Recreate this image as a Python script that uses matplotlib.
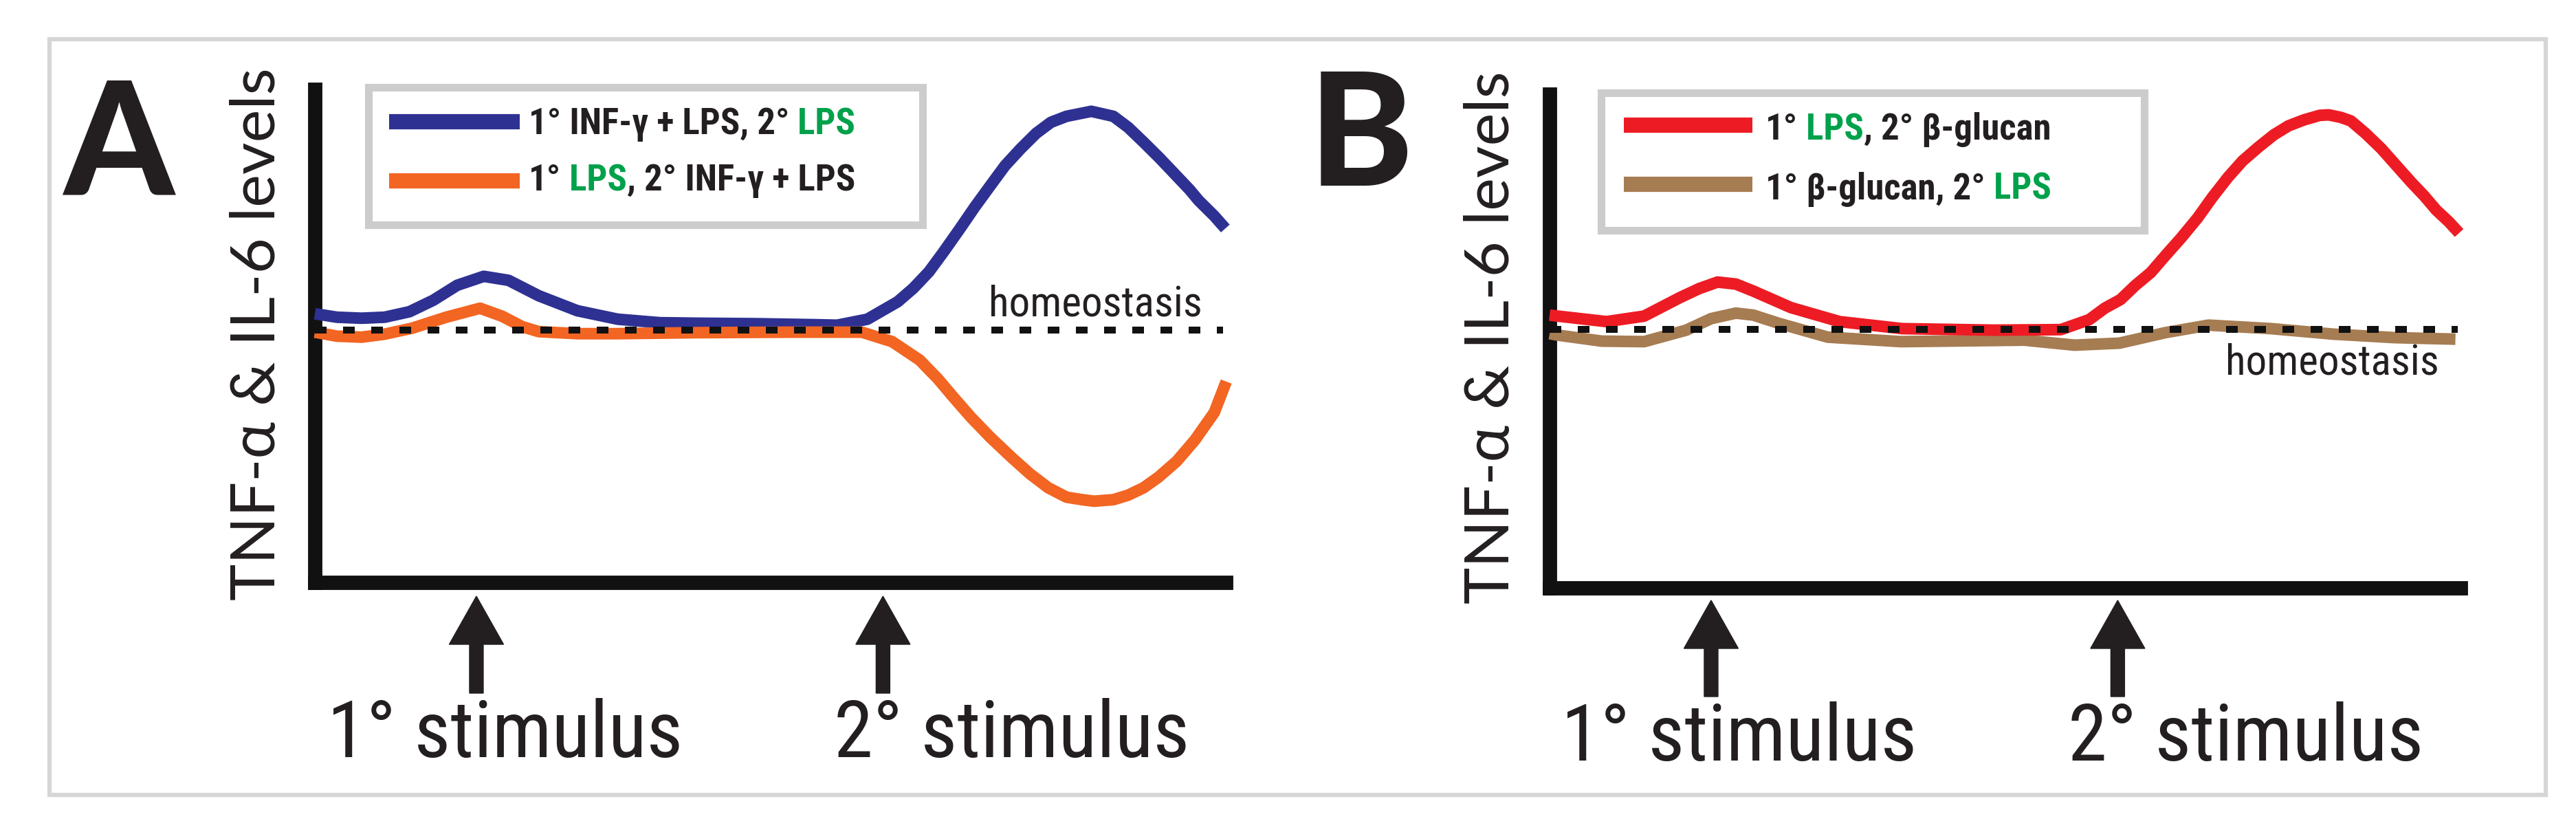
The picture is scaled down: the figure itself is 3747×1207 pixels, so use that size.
import matplotlib
matplotlib.use("Agg")
import matplotlib.pyplot as plt
from matplotlib import font_manager, patches, transforms

W, H, DPI = 3748, 1207, 100

# time runs 0-100 along the x axis, level 0-100 up the y axis (homeostasis ~ 50)
a_blue_t = [0, 2.4, 5.1, 7.6, 10.3, 12.9, 15.5, 18.4, 21.1, 24.4, 28.6, 33.0, 37.6, 41.6, 48.1,
            54.5, 56.9, 60.2, 63.5, 65.2, 66.9, 68.5, 70.3, 71.9, 73.6, 75.2, 76.9, 78.6, 80.2,
            81.9, 84.6, 87.0, 88.6, 90.3, 92.0, 93.6, 95.3, 96.3, 98.0, 99.2]
a_blue_y = [53.9, 53.2, 53.0, 53.2, 54.3, 56.6, 59.6, 61.4, 60.6, 57.5, 54.5, 52.8, 52.1, 52.0, 51.9,
            51.7, 51.6, 52.8, 56.3, 59.0, 62.3, 66.3, 71.0, 75.3, 79.6, 83.6, 87.0, 90.1, 92.3,
            93.5, 94.5, 93.5, 91.3, 88.3, 85.2, 82.1, 78.8, 76.6, 73.5, 71.0]
a_orange_t = [0, 2.4, 5.1, 7.6, 10.6, 14.3, 18.0, 20.4, 22.6, 24.4, 28.6, 33.0, 41.6, 51.8, 59.6,
              62.9, 65.9, 67.9, 69.6, 71.5, 73.6, 75.9, 77.9, 79.9, 81.9, 83.6, 84.9, 87.0, 88.6,
              90.3, 91.9, 93.9, 95.9, 98.0, 99.3]
a_orange_y = [50.2, 49.4, 49.2, 49.8, 51.0, 53.2, 55.0, 53.4, 51.3, 50.3, 49.9, 49.9, 50.1, 50.2, 50.2,
              48.3, 44.6, 40.8, 37.1, 33.1, 29.1, 25.1, 21.8, 19.0, 17.1, 16.6, 16.3, 16.6, 17.5,
              19.0, 21.1, 24.3, 28.6, 34.1, 40.3]

b_red_t = [0, 0.9, 6.2, 10.3, 14.2, 16.3, 18.3, 20.3, 22.2, 26.3, 31.6, 38.4, 48.4, 55.7, 58.8,
           60.5, 62.2, 63.8, 65.5, 67.2, 68.8, 70.6, 72.2, 73.9, 75.5, 77.2, 78.9, 80.5, 82.2,
           83.9, 84.9, 86.2, 87.3, 88.9, 90.6, 92.3, 93.9, 95.3, 96.6, 98.0, 99.1]
b_red_y = [54.5, 54.3, 53.2, 54.3, 58.0, 59.8, 61.1, 60.7, 59.3, 56.0, 53.2, 51.8, 51.5, 51.6, 53.6,
           55.9, 57.6, 60.4, 63.0, 66.6, 69.9, 73.9, 78.0, 82.0, 85.3, 88.0, 90.5, 92.3, 93.5,
           94.4, 94.5, 94.0, 93.3, 90.8, 87.8, 84.3, 81.0, 78.3, 75.5, 73.1, 70.9]
b_tan_t = [0, 0.9, 5.7, 10.3, 14.9, 17.6, 20.3, 22.2, 24.9, 30.3, 38.3, 51.7, 57.2, 62.1, 67.1,
           71.8, 78.6, 85.4, 92.1, 98.7]
b_tan_y = [50.8, 50.5, 49.3, 49.2, 51.5, 53.8, 54.9, 54.5, 52.9, 50.1, 49.2, 49.5, 48.5, 48.9, 51.0,
           52.5, 51.8, 50.7, 50.0, 49.7]

homeo_a = 50.6
homeo_b = 51.6
stim_t = [17.6, 61.9]
stim_labels = ["1\u00b0 stimulus", "2\u00b0 stimulus"]
ylabel = "TNF-\u03b1 & IL-6 levels"

BLUE, ORANGE, RED, TAN = "#2e3192", "#f26522", "#ed1c24", "#a67c52"
GREEN, INK = "#00a14b", "#231f20"

legend_a = [[("1\u00b0 INF-\u03b3 + LPS, 2\u00b0", INK), (" LPS", GREEN)],
            [("1\u00b0", INK), (" LPS", GREEN), (", 2\u00b0 INF-\u03b3 + LPS", INK)]]
legend_b = [[("1\u00b0", INK), (" LPS", GREEN), (", 2\u00b0 \u03b2-glucan", INK)],
            [("1\u00b0 \u03b2-glucan, 2\u00b0", INK), (" LPS", GREEN)]]

names = {f.name for f in font_manager.fontManager.ttflist}


def pick(*cands):
    for c in cands:
        if c in names:
            return c
    return "DejaVu Sans"


narrow = pick("Roboto Condensed", "Liberation Sans Narrow", "Open Sans Condensed", "Roboto")
heavy = pick("Lato", "Open Sans", "Roboto")
humanist = pick("Lato", "Open Sans", "Noto Sans")

fig = plt.figure(figsize=(W / DPI, H / DPI), dpi=DPI)
renderer = fig.canvas.get_renderer()


def fx(px):
    return px / W


def fy(py):
    return 1 - py / H


PX_X, PX_Y_A, PX_Y_B = 13.35, 7.25, 7.28

# light grey frame round the whole figure
fig.add_artist(patches.Rectangle((fx(72), fy(1156)), fx(3703) - fx(72), fy(57) - fy(1156),
                                 transform=fig.transFigure, fill=False, ec="#d6d6d6", lw=4.5))


def panel(left, bottom, top, sy, curves, homeo, homeo_xy, arrow_y, letter, letter_xy,
          ylab_xy, stim_xs, stim_base, legend, box, bar_x, rows, text_x):
    ax = fig.add_axes([fx(left), fy(bottom), (1783 - 458) / W, (bottom - top) / H])
    ax.set_xlim(0, (1783 - 458) / PX_X)
    ax.set_ylim(0, (bottom - top) / sy)
    ax.set_xticks([])
    ax.set_yticks([])
    ax.patch.set_visible(False)
    for s in ["top", "right"]:
        ax.spines[s].set_visible(False)
    for s in ["left", "bottom"]:
        ax.spines[s].set_linewidth(15)
        ax.spines[s].set_color("#111111")
        ax.spines[s].set_capstyle("projecting")

    for t, y, c in curves:
        ax.plot(t, y, color=c, lw=12.2, solid_capstyle="butt", solid_joinstyle="round",
                clip_on=False, zorder=3)
    ax.plot([0, 98.95], [homeo, homeo], color="#111111", lw=7.2, dashes=(1.7, 2.4),
            dash_capstyle="butt", zorder=4, clip_on=False)
    ax.text(homeo_xy[0], homeo_xy[1], "homeostasis", family=narrow, fontsize=44,
            color=INK, va="baseline", ha="left")

    # stimulus arrows
    tr = transforms.blended_transform_factory(ax.transData, fig.transFigure)
    for t in stim_t:
        ax.add_patch(patches.FancyArrow(t, fy(arrow_y[1]), 0, fy(arrow_y[0]) - fy(arrow_y[1]),
                                        width=20 / PX_X, head_width=79 / PX_X,
                                        head_length=70 / H, length_includes_head=True,
                                        transform=tr, color=INK, clip_on=False))
    for x, lab in zip(stim_xs, stim_labels):
        fig.text(fx(x), fy(stim_base), lab, family=narrow, fontsize=83,
                 color=INK, va="baseline", ha="left")

    fig.text(fx(letter_xy[0]), fy(letter_xy[1]), letter, family=heavy, fontweight="black",
             fontsize=165, color=INK, va="baseline", ha="left")
    fig.text(fx(ylab_xy[0]), fy(ylab_xy[1]), ylabel, family=humanist, fontsize=65,
             color=INK, rotation=90, va="center", ha="center")

    # legend box with multi-coloured entries
    fig.add_artist(patches.Rectangle((fx(box[0]), fy(box[3])), fx(box[2]) - fx(box[0]),
                                     fy(box[1]) - fy(box[3]), transform=fig.transFigure,
                                     fill=False, ec="#cccccc", lw=8))
    for (c, (ly, base)), parts in zip(rows, legend):
        fig.add_artist(plt.Line2D([fx(bar_x[0]), fx(bar_x[1])], [fy(ly), fy(ly)], color=c,
                                  lw=16, solid_capstyle="butt", transform=fig.transFigure))
        x = text_x
        for s, col in parts:
            tx = fig.text(fx(x), fy(base), s, family=narrow, fontweight="bold", fontsize=38,
                          color=col, va="baseline", ha="left")
            x = tx.get_window_extent(renderer).x1
    return ax


panel(458, 847, 130, PX_Y_A,
      [(a_blue_t, a_blue_y, BLUE), (a_orange_t, a_orange_y, ORANGE)],
      homeo_a, (73.4, 53.5), (867, 1008), "A", (92, 282), (375, 486),
      (476, 1213), 1101, legend_a, (536, 127, 1342, 327), (566, 756),
      [(BLUE, (177, 195)), (ORANGE, (263, 277))], 769)

panel(2254, 855, 137, PX_Y_B,
      [(b_tan_t, b_tan_y, TAN), (b_red_t, b_red_y, RED)],
      homeo_b, (73.6, 42.6), (873, 1013), "B", (1904, 270), (2170, 491),
      (2271, 3008), 1106, legend_b, (2329, 135, 3119, 335), (2362, 2549),
      [(RED, (182, 203)), (TAN, (268, 290))], 2568)

fig.savefig("out.png", dpi=DPI)
